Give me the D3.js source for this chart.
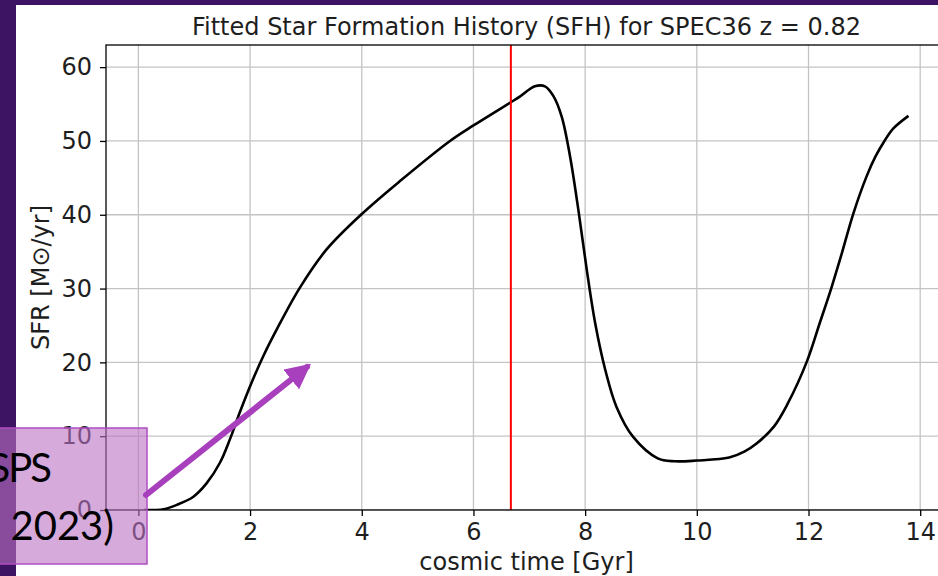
<!DOCTYPE html>
<html>
<head>
<meta charset="utf-8">
<script src="https://cdn.jsdelivr.net/npm/d3@7"></script>
<style>
  body { margin: 0; background: #3c1463; }
  svg { display: block; }
</style>
</head>
<body>
<script>
// star formation history
const timeGyr = [0.105, 0.3, 0.45, 0.69, 0.985, 1.22, 1.46, 1.64, 1.82, 2.03, 2.24, 2.48, 2.89, 3.37, 4.0, 4.69, 5.58, 6.0, 6.66, 6.83, 7.1, 7.28, 7.43, 7.58, 7.73, 7.88, 8.03, 8.18, 8.36, 8.56, 8.86, 9.3, 9.6, 10.0, 10.58, 10.85, 11.07, 11.38, 11.62, 11.97, 12.2, 12.41, 12.59, 12.8, 13.04, 13.2, 13.36, 13.52, 13.79]
const sfr = [0, 0, 0.1, 0.7, 1.8, 3.6, 6.4, 9.6, 13.3, 17.3, 20.9, 24.5, 30.1, 35.3, 40.1, 44.6, 50.0, 52.1, 55.2, 56.0, 57.4, 57.4, 56.1, 53.3, 47.9, 40.6, 32.5, 25.3, 19.0, 14.0, 9.9, 7.0, 6.6, 6.7, 7.1, 7.9, 9.0, 11.3, 14.3, 20.1, 25.3, 30.1, 34.6, 40.1, 45.2, 47.9, 50.0, 51.7, 53.4]
const xTicks = [0, 2, 4, 6, 8, 10, 12, 14]
const yTicks = [0, 10, 20, 30, 40, 50, 60]
const tObs = 6.67
const title = "Fitted Star Formation History (SFH) for SPEC36 z = 0.82"
const xLabel = "cosmic time [Gyr]"
const yLabel = "SFR [M\u2299/yr]"
const noteLines = ["SPS", "2023)"]

const w = 938
const h = 576
const m = {left: 106, top: 45, right: 947, bottom: 510}

const svg = d3.select("body")
              .append("svg")
              .attr("width", w)
              .attr("height", h)

svg.append("rect")
   .attr("width", w).attr("height", h)
   .attr("fill", "#3c1463")
svg.append("rect")
   .attr("x", 16).attr("y", 5)
   .attr("width", w - 16).attr("height", h - 5)
   .attr("fill", "#ffffff")

const x = d3.scaleLinear().domain([-0.58, 14.48]).range([m.left, m.right])
const y = d3.scaleLinear().domain([0, 63]).range([m.bottom, m.top])

svg.append("clipPath").attr("id", "plot")
   .append("rect")
   .attr("x", m.left).attr("y", m.top)
   .attr("width", m.right - m.left).attr("height", m.bottom - m.top)

const plot = svg.append("g").attr("clip-path", "url(#plot)")

// grid
plot.selectAll(".gx").data(xTicks).enter()
    .append("line")
    .attr("x1", (d) => x(d)).attr("x2", (d) => x(d))
    .attr("y1", m.top).attr("y2", m.bottom)
    .attr("stroke", "#c4c4c4").attr("stroke-width", 1.3)
plot.selectAll(".gy").data(yTicks).enter()
    .append("line")
    .attr("x1", m.left).attr("x2", m.right)
    .attr("y1", (d) => y(d)).attr("y2", (d) => y(d))
    .attr("stroke", "#c4c4c4").attr("stroke-width", 1.3)

const line = d3.line()
               .x((d, i) => x(timeGyr[i]))
               .y((d) => y(d))
               .curve(d3.curveCatmullRom.alpha(0.5))

plot.append("path")
    .datum(sfr)
    .attr("d", line)
    .attr("fill", "none")
    .attr("stroke", "#000")
    .attr("stroke-width", 2.6)
    .attr("stroke-linejoin", "round")

plot.append("line")
    .attr("x1", x(tObs)).attr("x2", x(tObs))
    .attr("y1", m.top).attr("y2", m.bottom)
    .attr("stroke", "#ff0000").attr("stroke-width", 2)

// axes
const font = "DejaVu Sans"
const xAxis = svg.append("g")
                 .attr("transform", "translate(0," + m.bottom + ")")
                 .call(d3.axisBottom(x).tickValues(xTicks).tickSize(6).tickPadding(7).tickFormat(d3.format("d")))
const yAxis = svg.append("g")
                 .attr("transform", "translate(" + m.left + ",0)")
                 .call(d3.axisLeft(y).tickValues(yTicks).tickSize(6).tickPadding(8).tickFormat(d3.format("d")))
for (const a of [xAxis, yAxis]) {
    a.select(".domain").remove()
    a.selectAll("line").attr("stroke", "#000").attr("stroke-width", 1.3)
    a.selectAll("text").attr("font-family", font).attr("font-size", 24).attr("fill", "#1e1e1e")
}

svg.append("rect")
   .attr("x", m.left).attr("y", m.top)
   .attr("width", m.right - m.left).attr("height", m.bottom - m.top)
   .attr("fill", "none").attr("stroke", "#000").attr("stroke-width", 1.3)

svg.append("text")
   .attr("x", (m.left + m.right) / 2).attr("y", 35)
   .attr("text-anchor", "middle")
   .attr("font-family", font).attr("font-size", 24).attr("fill", "#1e1e1e")
   .text(title)
svg.append("text")
   .attr("x", (m.left + m.right) / 2).attr("y", 570)
   .attr("text-anchor", "middle")
   .attr("font-family", font).attr("font-size", 24).attr("fill", "#1e1e1e")
   .text(xLabel)
svg.append("text")
   .attr("transform", "translate(49," + (m.top + m.bottom) / 2 + ") rotate(-90)")
   .attr("text-anchor", "middle")
   .attr("font-family", font).attr("font-size", 24).attr("fill", "#1e1e1e")
   .text(yLabel)

// slide annotation on top
const note = svg.append("g")
note.append("rect")
    .attr("x", -10).attr("y", 428)
    .attr("width", 157).attr("height", 136)
    .attr("fill", "rgba(188,113,197,0.6)")
    .attr("stroke", "#b04ec2").attr("stroke-width", 1.5)
note.selectAll(".nt").data(noteLines).enter()
    .append("text")
    .attr("x", (d, i) => i === 0 ? 50 : 114)
    .attr("y", (d, i) => i === 0 ? 482 : 540)
    .attr("text-anchor", "end")
    .attr("font-family", "Lato").attr("font-size", 40).attr("fill", "#000")
    .attr("letter-spacing", (d, i) => i === 0 ? -2 : 0)
    .text((d) => d)

svg.append("defs").append("marker")
   .attr("id", "head")
   .attr("viewBox", "0 0 10 10")
   .attr("refX", 8).attr("refY", 5)
   .attr("markerWidth", 4.2).attr("markerHeight", 4.2)
   .attr("orient", "auto")
   .append("path")
   .attr("d", "M0,0 L10,5 L0,10 Z")
   .attr("fill", "#a83fbd")

svg.append("line")
   .attr("x1", 146).attr("y1", 495)
   .attr("x2", 307).attr("y2", 367)
   .attr("stroke", "#a83fbd").attr("stroke-width", 6)
   .attr("stroke-linecap", "round")
   .attr("marker-end", "url(#head)")
</script>
</body>
</html>
